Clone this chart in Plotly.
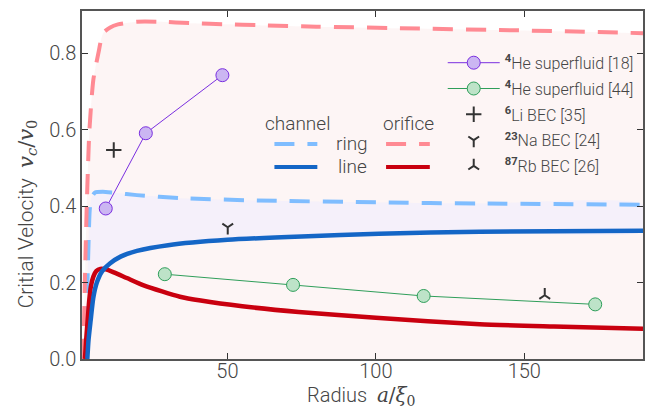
import plotly.graph_objects as go

# ---- theory curves: critical velocity vs. radius ----
orifice_ring_x = [1.4, 1.7, 2.1, 2.6, 3.0, 3.5, 4.8, 6.5, 8.1, 10.5, 13.1, 19.5, 27, 38, 50, 60, 80, 108, 150, 190]
orifice_ring_y = [0.0, 0.10, 0.25, 0.40, 0.50, 0.60, 0.73, 0.80, 0.853, 0.868, 0.876, 0.883, 0.883, 0.879, 0.876, 0.874, 0.870, 0.866, 0.860, 0.853]

channel_ring_x = [2.0, 2.4, 2.9, 3.3, 3.6, 4.2, 5.4, 8, 12, 19.5, 34, 60, 101, 135, 190]
channel_ring_y = [0.0, 0.10, 0.22, 0.33, 0.39, 0.422, 0.436, 0.438, 0.435, 0.429, 0.421, 0.415, 0.41, 0.407, 0.404]

channel_line_x = [2.8, 3.2, 3.9, 4.8, 6.0, 7.8, 10.4, 14, 19.5, 30, 50, 75, 101, 135, 190]
channel_line_y = [0.0, 0.05, 0.10, 0.16, 0.20, 0.23, 0.25, 0.268, 0.283, 0.298, 0.312, 0.321, 0.328, 0.333, 0.336]

orifice_line_x = [2.0, 2.4, 2.9, 3.4, 4.0, 4.8, 5.8, 7.2, 9, 12, 16.1, 22, 34, 41, 55, 74, 100, 135, 160, 190]
orifice_line_y = [0.0, 0.05, 0.10, 0.15, 0.19, 0.215, 0.23, 0.236, 0.235, 0.226, 0.212, 0.192, 0.163, 0.153, 0.138, 0.123, 0.108, 0.091, 0.085, 0.079]

# ---- experimental data ----
he18_x = [9.0, 22.5, 48.3]
he18_y = [0.394, 0.591, 0.743]
he44_x = [28.9, 72.1, 116.1, 173.9]
he44_y = [0.222, 0.194, 0.165, 0.143]
li_x, li_y = [11.7], [0.547]
na_x, na_y = [50.1], [0.345]
rb_x, rb_y = [156.9], [0.167]

x_ticks = [50, 100, 150]
y_ticks = [0.0, 0.2, 0.4, 0.6, 0.8]

FONT = "Roboto"
W = 300
TXT = "#454545"
LIGHT_BLUE = "#7fbdff"
PINK = "#ff8a93"
BLUE = "#1466c6"
RED = "#c9000f"
DASH = "20px,13px"
SMOOTH = 0.6

fig = go.Figure()

# shaded regions
fig.add_trace(go.Scatter(x=orifice_ring_x, y=orifice_ring_y, fill="tozeroy",
                         fillcolor="rgba(250,232,230,0.42)", mode="lines",
                         line=dict(width=0, shape="spline", smoothing=SMOOTH),
                         showlegend=False, hoverinfo="skip"))
fig.add_trace(go.Scatter(x=channel_ring_x + channel_line_x[::-1],
                         y=channel_ring_y + channel_line_y[::-1], fill="toself",
                         fillcolor="rgba(238,236,255,0.5)", mode="lines",
                         line=dict(width=0, shape="spline", smoothing=SMOOTH),
                         showlegend=False, hoverinfo="skip"))

# curves
fig.add_trace(go.Scatter(x=channel_ring_x, y=channel_ring_y, mode="lines",
                         line=dict(color=LIGHT_BLUE, width=4, dash=DASH, shape="spline", smoothing=SMOOTH),
                         showlegend=False, hoverinfo="skip"))
fig.add_trace(go.Scatter(x=orifice_ring_x, y=orifice_ring_y, mode="lines",
                         line=dict(color=PINK, width=4, dash=DASH, shape="spline", smoothing=SMOOTH),
                         showlegend=False, hoverinfo="skip"))
fig.add_trace(go.Scatter(x=orifice_line_x, y=orifice_line_y, mode="lines",
                         line=dict(color=RED, width=4.5, shape="spline", smoothing=SMOOTH),
                         showlegend=False, hoverinfo="skip"))
fig.add_trace(go.Scatter(x=channel_line_x, y=channel_line_y, mode="lines",
                         line=dict(color=BLUE, width=4.5, shape="spline", smoothing=SMOOTH),
                         showlegend=False, hoverinfo="skip"))

# experiments
fig.add_trace(go.Scatter(x=he18_x, y=he18_y, mode="lines+markers",
                         name="<sup><b>4</b></sup>He superfluid [18]", legendgroup="a",
                         line=dict(color="#7a2fe0", width=1),
                         marker=dict(size=13, color="#cbb6f2", line=dict(color="#7a2fe0", width=1))))
fig.add_trace(go.Scatter(x=he44_x, y=he44_y, mode="lines+markers",
                         name="<sup><b>4</b></sup>He superfluid [44]", legendgroup="b",
                         line=dict(color="#2f9e5a", width=1),
                         marker=dict(size=13, color="#bde3c8", line=dict(color="#2f9e5a", width=1))))
fig.add_trace(go.Scatter(x=li_x, y=li_y, mode="markers",
                         name="<sup><b>6</b></sup>Li BEC [35]", legendgroup="c",
                         marker=dict(symbol="cross-thin", size=11, line=dict(color="#333", width=2))))
fig.add_trace(go.Scatter(x=na_x, y=na_y, mode="markers",
                         name="<sup><b>23</b></sup>Na BEC [24]", legendgroup="d",
                         marker=dict(symbol="y-down", size=9, line=dict(color="#333", width=2))))
fig.add_trace(go.Scatter(x=rb_x, y=rb_y, mode="markers",
                         name="<sup><b>87</b></sup>Rb BEC [26]", legendgroup="e",
                         marker=dict(symbol="y-up", size=9, line=dict(color="#333", width=2))))

# channel / orifice key
key_shapes = [
    dict(x0=0.343, x1=0.4195, y=0.618, color=LIGHT_BLUE, dash=DASH),
    dict(x0=0.542, x1=0.620, y=0.618, color=PINK, dash=DASH),
    dict(x0=0.343, x1=0.4195, y=0.552, color=BLUE, dash="solid"),
    dict(x0=0.542, x1=0.620, y=0.552, color=RED, dash="solid"),
]
for s in key_shapes:
    fig.add_shape(type="line", xref="paper", yref="paper", x0=s["x0"], x1=s["x1"],
                  y0=s["y"], y1=s["y"], line=dict(color=s["color"], width=4, dash=s["dash"]))

key_text = [("channel", 0.384, 0.678), ("orifice", 0.5813, 0.678),
            ("ring", 0.4816, 0.618), ("line", 0.4816, 0.552)]
for t, x, y in key_text:
    fig.add_annotation(text=t, x=x, y=y, xref="paper", yref="paper", showarrow=False,
                       font=dict(family=FONT, size=19, color=TXT, weight=W),
                       xanchor="center", yanchor="middle")

# axis titles
fig.add_annotation(text="Critial Velocity  <span style='font-family:DejaVu Serif'><i>v<sub>c</sub></i>/<i>v</i><sub>0</sub></span>",
                   x=-0.099, y=0.417, xref="paper", yref="paper", showarrow=False, textangle=-90,
                   font=dict(family=FONT, size=21, color=TXT, weight=W),
                   xanchor="center", yanchor="middle")
fig.add_annotation(text="Radius  <span style='font-family:DejaVu Serif'><i>a</i>/<i>ξ</i><sub>0</sub></span>",
                   x=0.498, y=-0.107, xref="paper", yref="paper", showarrow=False,
                   font=dict(family=FONT, size=20, color=TXT, weight=W),
                   xanchor="center", yanchor="middle")

axis_common = dict(showline=True, mirror="ticks", linecolor="#555", linewidth=1.5,
                   ticks="inside", ticklen=6, tickwidth=1.2, tickcolor="#333",
                   showgrid=False, zeroline=False,
                   tickfont=dict(family=FONT, size=20, color=TXT, weight=W))

fig.update_xaxes(range=[1, 190], tickvals=x_ticks, ticklabelstandoff=-7, **axis_common)
fig.update_yaxes(range=[0, 0.911], tickvals=y_ticks, tickformat=".1f", **axis_common)

fig.update_layout(
    width=652, height=418,
    margin=dict(l=82, r=7, t=11, b=59),
    paper_bgcolor="white", plot_bgcolor="white",
    font=dict(family=FONT, color=TXT),
    legend=dict(x=0.643, y=0.90, xanchor="left", yanchor="top",
                bgcolor="rgba(0,0,0,0)", font=dict(family=FONT, size=16, color=TXT, weight=W),
                itemwidth=52, tracegroupgap=2),
)

fig.write_html("out.html")
